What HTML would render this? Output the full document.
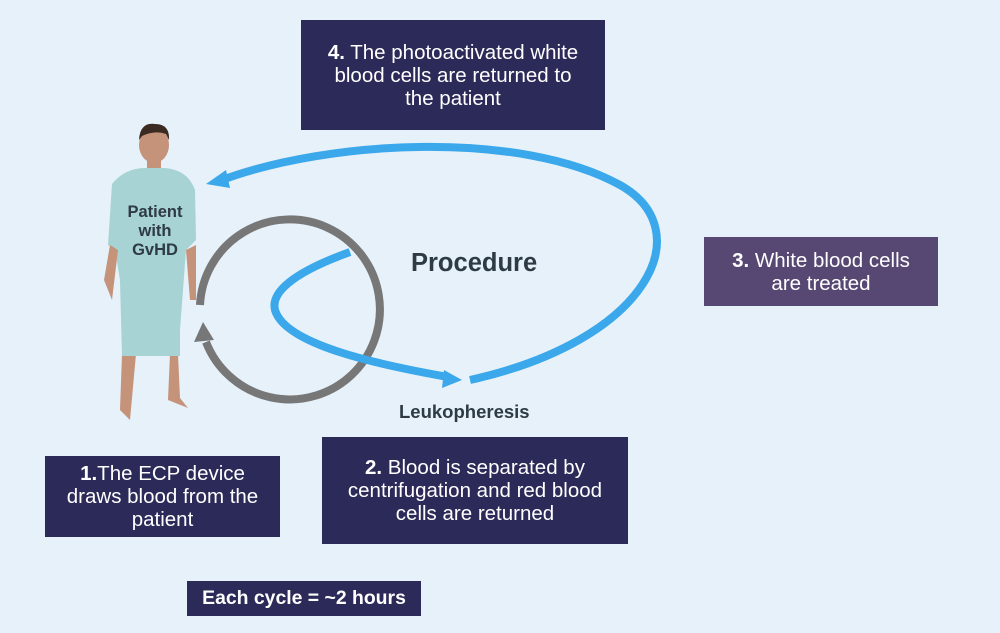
<!DOCTYPE html>
<html><head><style>
body{margin:0;width:1000px;height:633px;background:#e6f1fa;position:relative;overflow:hidden;font-family:"Liberation Sans",sans-serif;}
.b{position:absolute;background:#2b2a58;color:#fff;text-align:center;font-size:20.5px;line-height:23px;box-sizing:border-box;display:flex;align-items:center;justify-content:center;}
.t{position:absolute;color:#2e3a44;font-weight:bold;}
</style></head><body>
<svg width="1000" height="633" style="position:absolute;left:0;top:0">
<ellipse cx="154" cy="145" rx="15" ry="18" fill="#c4937a"/>
<path d="M139 140 Q140 122 155 124 Q170 124 169 140 L166 134 Q155 130 142 136Z" fill="#3b2a22"/>
<rect x="147" y="158" width="14" height="14" fill="#c4937a"/>
<path d="M122 354 L120 410 L130 420 L136 354Z M170 354 L168 400 L188 408 L180 398 L178 354Z" fill="#c4937a"/>
<path d="M112 184 Q125 168 145 168 L165 168 Q188 170 195 190 L196 240 L186 250 L180 330 L180 356 L122 356 L120 280 L115 250 L108 245Z" fill="#a7d3d4"/>
<path d="M110 245 L104 280 L112 300 L118 250Z M186 250 L190 300 L196 300 L196 245Z" fill="#c4937a"/>
<path d="M200 305 A90 90 0 1 1 206 342" fill="none" stroke="#777" stroke-width="8"/>
<polygon points="203,322 194,342 214,340" fill="#777"/>
<path d="M470 380 C650 340 700 230 620 185 C520 130 330 140 222 180" fill="none" stroke="#3aa8ea" stroke-width="8"/>
<polygon points="206,184 226,170 230,188" fill="#3aa8ea"/>
<path d="M350 252 C300 270 270 290 275 310 C285 345 380 365 448 377" fill="none" stroke="#3aa8ea" stroke-width="8"/>
<polygon points="462,380 444,370 442,388" fill="#3aa8ea"/>
</svg>
<div class="t" style="left:103px;top:203px;width:104px;text-align:center;font-size:16.5px;line-height:19px">Patient<br>with<br>GvHD</div>
<div class="t" style="left:411px;top:249px;font-size:25.5px">Procedure</div>
<div class="t" style="left:399px;top:401px;font-size:18.5px">Leukopheresis</div>
<div class="b" style="left:301px;top:20px;width:304px;height:110px"><span><b>4.</b> The photoactivated white<br>blood cells are returned to<br>the patient</span></div>
<div class="b" style="left:704px;top:237px;width:234px;height:69px;background:#574873"><span><b>3.</b> White blood cells<br>are treated</span></div>
<div class="b" style="left:45px;top:456px;width:235px;height:81px"><span><b>1.</b>The ECP device<br>draws blood from the<br>patient</span></div>
<div class="b" style="left:322px;top:437px;width:306px;height:107px"><span><b>2.</b> Blood is separated by<br>centrifugation and red blood<br>cells are returned</span></div>
<div class="b" style="left:187px;top:581px;width:234px;height:35px;font-weight:bold;font-size:19.4px">Each cycle = ~2 hours</div>
</body></html>
